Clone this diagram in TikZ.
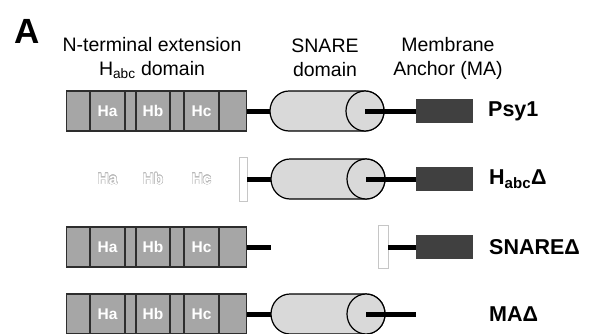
\documentclass[tikz,border=0pt]{standalone}
\usepackage{fontspec}
\setmainfont{Liberation Sans}
\usepackage{contour}
\contourlength{0.45pt}
\usetikzlibrary{calc,positioning}

\definecolor{extgray}{RGB}{166,166,166}
\definecolor{snaregray}{RGB}{217,217,217}
\definecolor{anchorgray}{RGB}{64,64,64}
\definecolor{edgegray}{RGB}{45,45,45}

\tikzset{
  extbox/.style={draw=edgegray, line width=1.2pt, fill=extgray, minimum width=180pt, minimum height=40pt, inner sep=0pt},
  hcell/.style={draw=edgegray, line width=1.2pt, fill=extgray, minimum height=40pt, inner sep=0pt, text=white, font=\bfseries\fontsize{15.5}{15.5}\selectfont},
  ghost/.style={inner sep=0pt, font=\bfseries\fontsize{15.5}{15.5}\selectfont},
  anchorbox/.style={fill=anchorgray, minimum width=57pt, minimum height=24pt, inner sep=0pt},
  stub/.style={draw=gray!45, line width=0.8pt, fill=white, inner sep=0pt},
  linker/.style={line width=5pt},
  protname/.style={anchor=west, inner sep=0pt, font=\bfseries\fontsize{21.5}{21.5}\selectfont},
  head/.style={align=center, inner sep=0pt, font=\fontsize{19.5}{24}\selectfont},
  snarecyl/.pic={
    \draw[line width=1.2pt, fill=snaregray] (38,-20) -- (-38,-20)
      arc[start angle=270, end angle=90, x radius=19, y radius=20] -- (38,20)
      arc[start angle=90, end angle=-90, x radius=19, y radius=20] -- cycle;
    \draw[line width=1.2pt, fill=snaregray] (38,0) ellipse [x radius=19, y radius=20];
    \coordinate (-left) at (-57,0);
    \coordinate (-face) at (38,0);
  }
}

\begin{document}
\begin{tikzpicture}[x=1pt, y=-1pt]
\useasboundingbox (0,0) rectangle (590,333);

\node[inner sep=0pt, font=\bfseries\fontsize{35}{35}\selectfont] (lbl) at (27,31) {A};

\node[head] (t1) at (152,58) {N-terminal extension\\H\textsubscript{abc} domain};
\node[head] (t2) at (325,58) {SNARE\\domain};
\node[head] (t3) at (448,58) {Membrane\\Anchor (MA)};

% Psy1
\node[extbox] (e1) at (156.7,111) {};
\node[hcell, minimum width=35pt] (ha1) at (107.5,111) {Ha};
\node[hcell, minimum width=34pt] (hb1) at (153,111) {Hb};
\node[hcell, minimum width=35pt] (hc1) at (201.5,111) {Hc};
\pic (s1) at (327,111) {snarecyl};
\node[anchorbox] (m1) at (444.5,111) {};
\draw[linker] (e1.east) -- (s1-left);
\draw[linker] (s1-face) -- (m1.west);
\node[protname] (n1) at (488,111) {Psy1};

% Habc deletion
\node[ghost] (ha2) at (107.5,179) {\contour{gray!55}{\textcolor{white}{Ha}}};
\node[ghost] (hb2) at (153,179) {\contour{gray!55}{\textcolor{white}{Hb}}};
\node[ghost] (hc2) at (201.5,179) {\contour{gray!55}{\textcolor{white}{Hc}}};
\node[stub, minimum width=8pt, minimum height=44pt] (b2) at (243,179) {};
\pic (s2) at (328,179) {snarecyl};
\node[anchorbox] (m2) at (444.5,179) {};
\draw[linker] (b2.east) -- (s2-left);
\draw[linker] (s2-face) -- (m2.west);
\node[protname] (n2) at (489,179) {H\textsubscript{abc}Δ};

% SNARE deletion
\node[extbox] (e3) at (156.7,247) {};
\node[hcell, minimum width=35pt] (ha3) at (107.5,247) {Ha};
\node[hcell, minimum width=34pt] (hb3) at (153,247) {Hb};
\node[hcell, minimum width=35pt] (hc3) at (201.5,247) {Hc};
\coordinate (x3) at (271,247);
\node[stub, minimum width=10pt, minimum height=43pt] (b3) at (383,247) {};
\node[anchorbox] (m3) at (444.5,247) {};
\draw[linker] (e3.east) -- (x3);
\draw[linker] (b3.east) -- (m3.west);
\node[protname] (n3) at (489,247) {SNAREΔ};

% MA deletion
\node[extbox] (e4) at (156.7,314) {};
\node[hcell, minimum width=35pt] (ha4) at (107.5,314) {Ha};
\node[hcell, minimum width=34pt] (hb4) at (153,314) {Hb};
\node[hcell, minimum width=35pt] (hc4) at (201.5,314) {Hc};
\pic (s4) at (328,314) {snarecyl};
\coordinate (x4) at (416,314);
\draw[linker] (e4.east) -- (s4-left);
\draw[linker] (s4-face) -- (x4);
\node[protname] (n4) at (489,314) {MAΔ};

\end{tikzpicture}
\end{document}
